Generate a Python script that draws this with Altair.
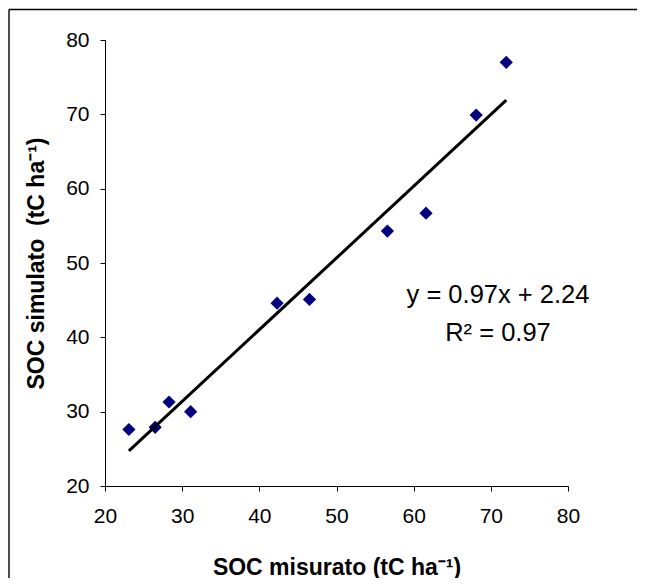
import altair as alt
import pandas as pd

# Values
soc_misurato = [23.1, 26.5, 28.3, 31.1, 42.3, 46.5, 56.6, 61.6, 68.1, 72.0]
soc_simulato = [27.6, 27.9, 31.3, 30.0, 44.6, 45.1, 54.3, 56.7, 69.9, 77.0]
tick_values = [20, 30, 40, 50, 60, 70, 80]
equation_lines = ["y = 0.97x + 2.24", "R² = 0.97"]

df = pd.DataFrame({"mis": soc_misurato, "sim": soc_simulato})

FONT = "Liberation Sans"

xscale = alt.Scale(domain=[20, 80], nice=False, zero=False)
yscale = alt.Scale(domain=[20, 80], nice=False, zero=False)

base = alt.Chart(df)

points = base.mark_point(
    shape="diamond", filled=True, color="#000080", size=175, opacity=1
).encode(
    x=alt.X(
        "mis:Q",
        scale=xscale,
        axis=alt.Axis(
            values=tick_values,
            title="SOC misurato (tC ha⁻¹)",
            titleY=88,
            titleBaseline="alphabetic",
        ),
    ),
    y=alt.Y(
        "sim:Q",
        scale=yscale,
        axis=alt.Axis(
            values=tick_values,
            title="SOC simulato\u00a0 (tC ha⁻¹)",
            titleX=-62,
            titleBaseline="alphabetic",
        ),
    ),
)

trend = base.transform_regression("mis", "sim", method="linear").mark_line(
    color="black", strokeWidth=3
).encode(
    x=alt.X("mis:Q", scale=xscale),
    y=alt.Y("sim:Q", scale=yscale),
)

eq1 = alt.Chart(pd.DataFrame({"t": [equation_lines[0]]})).mark_text(
    font=FONT, fontSize=25.5, color="black", align="center", baseline="alphabetic"
).encode(text="t:N", x=alt.value(393), y=alt.value(263))

eq2 = alt.Chart(pd.DataFrame({"t": [equation_lines[1]]})).mark_text(
    font=FONT, fontSize=25.5, color="black", align="center", baseline="alphabetic"
).encode(text="t:N", x=alt.value(393), y=alt.value(301))

frame_data = pd.DataFrame({"f": [0]})
frame_top = alt.Chart(frame_data).mark_rule(color="black", strokeWidth=1.4).encode(
    x=alt.value(-96), x2=alt.value(640), y=alt.value(-30.5)
)
frame_left = alt.Chart(frame_data).mark_rule(color="black", strokeWidth=1.4).encode(
    x=alt.value(-96), y=alt.value(-30.5), y2=alt.value(640)
)

chart = (
    alt.layer(frame_top, frame_left, points, trend, eq1, eq2)
    .properties(
        width=463,
        height=446,
        autosize=alt.AutoSizeParams(type="none"),
        padding={"left": 97, "top": 32, "right": 69, "bottom": 92},
    )
    .configure_view(stroke=None)
    .configure_axis(
        grid=False,
        domainColor="black",
        domainWidth=1,
        tickColor="black",
        tickWidth=1,
        tickSize=5,
        labelFont=FONT,
        labelFontSize=21,
        labelColor="black",
        labelFlush=False,
        titleFont=FONT,
        titleFontSize=23,
        titleFontWeight="bold",
        titleColor="black",
    )
    .configure_axisX(labelPadding=14)
    .configure_axisY(labelPadding=11)
)

chart.save("out.html", embed_options={"renderer": "svg", "actions": False})
